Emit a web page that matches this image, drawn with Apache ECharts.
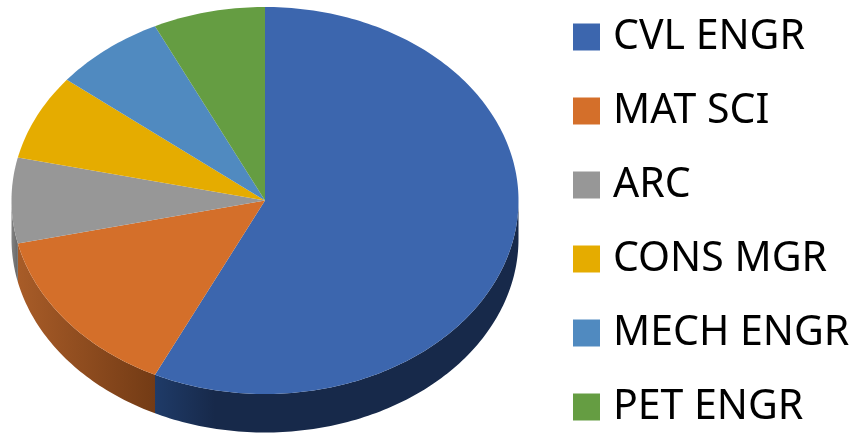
<!DOCTYPE html>
<html>
<head>
<meta charset="utf-8">
<style>
  html, body { margin: 0; padding: 0; background: #fff; }
  #chart { width: 856px; height: 435px; }
</style>
</head>
<body>
<div id="chart"></div>
<script src="https://cdn.jsdelivr.net/npm/echarts@6/dist/echarts.min.js"></script>
<script>
const categories = ['CVL ENGR', 'MAT SCI', 'ARC', 'CONS MGR', 'MECH ENGR', 'PET ENGR']
const values = [8, 2, 1, 1, 1, 1]

const colors = ['#3c66ae', '#d46f2a', '#979797', '#e5ac00', '#508ac0', '#659d42']

// side wall shading, only the front slices show a wall
const wallShades = [
  { from: 155, to: 215, stops: ['#1f3b68', '#17294a'] },
  { from: 18, to: 155, stops: ['#a85c28', '#733b15'] },
  { from: 11, to: 18, stops: ['#858585', '#666666'] },
  null, null, null
]

// pie is tilted, so the top face is an ellipse
const cx = 265
const cy = 200.5
const rx = 253.5
const ry = 193.5
const depth = 38.5

const total = values.reduce((a, b) => a + b, 0)

// angle is degrees clockwise from 12 o'clock
const rimPoint = (deg, dy = 0) => {
  const rad = deg * Math.PI / 180
  return [cx + rx * Math.sin(rad), cy - ry * Math.cos(rad) + dy]
}

const sweep = (start, end) => {
  const pts = []
  for (let a = start; a < end; a += 1) pts.push(a)
  pts.push(end)
  return pts
}

const renderSlice = (params, api) => {
  const idx = params.seriesIndex
  const before = values.slice(0, idx).reduce((a, b) => a + b, 0)
  const start = before / total * 360
  const end = (before + api.value(0)) / total * 360
  const children = []

  const wallStart = Math.max(start, 90)
  const wallEnd = Math.min(end, 270)
  if (wallStart < wallEnd && wallShades[idx]) {
    const shade = wallShades[idx]
    const arc = sweep(wallStart, wallEnd)
    const points = arc.map(a => rimPoint(a)).concat(arc.slice().reverse().map(a => rimPoint(a, depth)))
    children.push({
      type: 'polygon',
      shape: { points },
      style: {
        fill: {
          type: 'linear',
          global: true,
          x: shade.from, y: 0, x2: shade.to, y2: 0,
          colorStops: [
            { offset: 0, color: shade.stops[0] },
            { offset: 1, color: shade.stops[1] }
          ]
        }
      }
    })
  }

  children.push({
    type: 'polygon',
    shape: { points: [[cx, cy]].concat(sweep(start, end).map(a => rimPoint(a))) },
    style: { fill: colors[idx] }
  })

  return { type: 'group', children }
}

const chart = echarts.init(document.getElementById('chart'))

chart.setOption({
  animation: false,
  legend: {
    data: categories,
    orient: 'vertical',
    left: 573,
    top: 14,
    padding: 0,
    icon: 'rect',
    itemWidth: 27,
    itemHeight: 27,
    itemGap: 28,
    selectedMode: false,
    textStyle: {
      fontFamily: 'Noto Sans',
      fontSize: 41,
      lineHeight: 46,
      padding: [0, 0, 0, 8],
      color: '#000'
    }
  },
  series: categories.map((name, i) => ({
    name,
    type: 'custom',
    coordinateSystem: 'none',
    silent: true,
    itemStyle: { color: colors[i] },
    renderItem: renderSlice,
    data: [[values[i]]]
  }))
})
</script>
</body>
</html>
